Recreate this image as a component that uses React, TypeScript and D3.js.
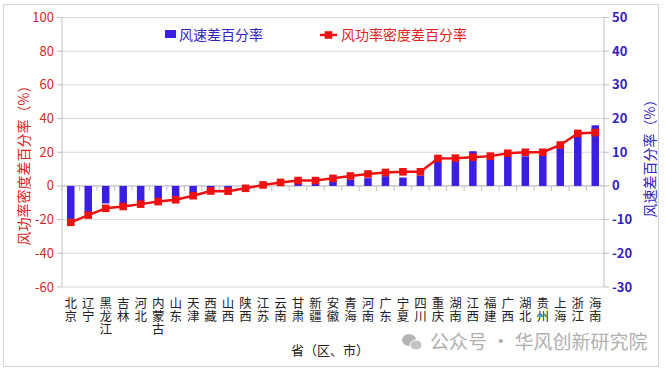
import React from 'react';
import * as d3 from 'd3';

// 省（区、市）
const provinces = [
  '北京', '辽宁', '黑龙江', '吉林', '河北', '内蒙古', '山东', '天津', '西藏', '山西',
  '陕西', '江苏', '云南', '甘肃', '新疆', '安徽', '青海', '河南', '广东', '宁夏',
  '四川', '重庆', '湖南', '江西', '福建', '广西', '湖北', '贵州', '上海', '浙江', '海南',
];

// 风速差百分率 (right axis, %)
const windSpeedDiff = [
  -10.3, -8.0, -5.2, -5.6, -4.8, -3.8, -3.2, -2.3, -1.0, -1.0,
  -0.3, 0.2, 0.3, 0.9, 0.9, 1.3, 1.9, 2.3, 2.9, 2.5,
  3.1, 7.2, 7.2, 10.3, 7.9, 8.6, 8.8, 9.0, 11.2, 14.6, 18.0,
];

// 风功率密度差百分率 (left axis, %)
const powerDensityDiff = [
  -21.6, -17.3, -13.3, -12.2, -10.8, -9.3, -8.2, -5.8, -3.0, -3.1,
  -1.4, 0.6, 2.1, 3.2, 3.2, 4.5, 5.9, 7.1, 8.0, 8.4,
  8.4, 16.3, 16.5, 17.1, 17.7, 19.4, 20.0, 20.0, 24.3, 31.2, 31.7,
];

const leftTicks = [-60, -40, -20, 0, 20, 40, 60, 80, 100];
const rightTicks = [-30, -20, -10, 0, 10, 20, 30, 40, 50];

const W = 666;
const H = 372;
const cjk = '"Noto Sans CJK SC", "Noto Sans", sans-serif';
const blue = '#3a1fe2';
const red = '#ee1111';

export default function App() {
  const left = 62;
  const right = 604;
  const top = 17.5;
  const bottom = 287;

  const x = d3.scaleBand().domain(provinces).range([left, right]);
  const yL = d3.scaleLinear().domain([-60, 100]).range([bottom, top]);
  const yR = d3.scaleLinear().domain([-30, 50]).range([bottom, top]);
  const bw = x.bandwidth();
  const barW = 7.5;
  const cx = (p: string) => (x(p) as number) + bw / 2;

  const line = d3
    .line<number>()
    .x((d, i) => cx(provinces[i]))
    .y((d) => yL(d));

  return (
    <svg width={W} height={H} style={{ position: 'absolute', left: 0, top: 0, background: '#fff' }}>
      <rect x={3.5} y={4.5} width={655} height={362} fill="#fff" stroke="#d4d4d4" />

      {/* grid */}
      {leftTicks.map((t) => (
        <line key={'g' + t} x1={left} x2={right} y1={yL(t)} y2={yL(t)} stroke="#d9d9d9" strokeWidth={1} />
      ))}

      {/* axes */}
      <line x1={left} x2={left} y1={top} y2={bottom} stroke="#bfbfbf" />
      <line x1={right} x2={right} y1={top} y2={bottom} stroke="#bfbfbf" />
      {leftTicks.map((t) => (
        <g key={'l' + t}>
          <line x1={left - 5} x2={left} y1={yL(t)} y2={yL(t)} stroke="#bfbfbf" />
          <text x={54} y={yL(t)} dy="0.35em" textAnchor="end" fontSize={13} fill="#cc2a2a" fontFamily={cjk}>
            {t}
          </text>
        </g>
      ))}
      {rightTicks.map((t) => (
        <g key={'r' + t}>
          <line x1={right} x2={right + 5} y1={yR(t)} y2={yR(t)} stroke="#bfbfbf" />
          <text x={612} y={yR(t)} dy="0.35em" textAnchor="start" fontSize={13} fontWeight="bold" fill="#3322bb" fontFamily={cjk}>
            {t}
          </text>
        </g>
      ))}

      {/* category ticks on zero line */}
      <line x1={left} x2={right} y1={yL(0)} y2={yL(0)} stroke="#bfbfbf" />
      {provinces.map((p) => (
        <line key={'t' + p} x1={x(p) as number} x2={x(p) as number} y1={yL(0)} y2={yL(0) + 5} stroke="#bfbfbf" />
      ))}

      {/* bars */}
      {windSpeedDiff.map((v, i) => (
        <rect
          key={'b' + i}
          x={cx(provinces[i]) - barW / 2}
          y={Math.min(yR(v), yR(0))}
          width={barW}
          height={Math.abs(yR(v) - yR(0))}
          fill={blue}
        />
      ))}

      {/* line */}
      <path d={line(powerDensityDiff) || ''} fill="none" stroke={red} strokeWidth={2.5} />
      {powerDensityDiff.map((v, i) => (
        <rect key={'m' + i} x={cx(provinces[i]) - 3.8} y={yL(v) - 3.8} width={7.6} height={7.6} fill={red} />
      ))}

      {/* category labels, written top to bottom */}
      {provinces.map((p) => (
        <text
          key={'x' + p}
          x={cx(p)}
          y={297}
          style={{ writingMode: 'vertical-rl' }}
          letterSpacing={0.5}
          fontSize={12.5}
          fill="#222"
          fontFamily={cjk}
        >
          {p}
        </text>
      ))}

      {/* axis titles */}
      <text
        transform="translate(24,162) rotate(-90)"
        textAnchor="middle"
        dy="0.35em"
        fontSize={14}
        fill="#dd2222"
        fontFamily={cjk}
      >
        风功率密度差百分率（%）
      </text>
      <text
        transform="translate(650,155) rotate(-90)"
        textAnchor="middle"
        dy="0.35em"
        fontSize={14}
        fill="#3322bb"
        fontFamily={cjk}
      >
        风速差百分率（%）
      </text>
      <text x={330} y={350} textAnchor="middle" dy="0.35em" fontSize={13} fill="#222" fontFamily={cjk}>
        省（区、市）
      </text>

      {/* legend */}
      <rect x={165} y={30} width={11} height={8} fill={blue} />
      <text x={179} y={35} dy="0.35em" fontSize={14} fill="#3322bb" fontFamily={cjk}>
        风速差百分率
      </text>
      <line x1={320} x2={337} y1={35} y2={35} stroke={red} strokeWidth={2.5} />
      <rect x={324.7} y={31.2} width={7.6} height={7.6} fill={red} />
      <text x={341} y={35} dy="0.35em" fontSize={14} fill="#dd2222" fontFamily={cjk}>
        风功率密度差百分率
      </text>

      {/* watermark */}
      <g fill="#b4b4b4">
        <ellipse cx={409} cy={340} rx={7} ry={6} />
        <ellipse cx={416} cy={345} rx={6} ry={5} fill="#c4c4c4" stroke="#fff" strokeWidth={1} />
      </g>
      <text x={430} y={342} dy="0.35em" fontSize={19} fill="#b0b0b0" fontFamily={cjk}>
        公众号 · 华风创新研究院
      </text>
    </svg>
  );
}
